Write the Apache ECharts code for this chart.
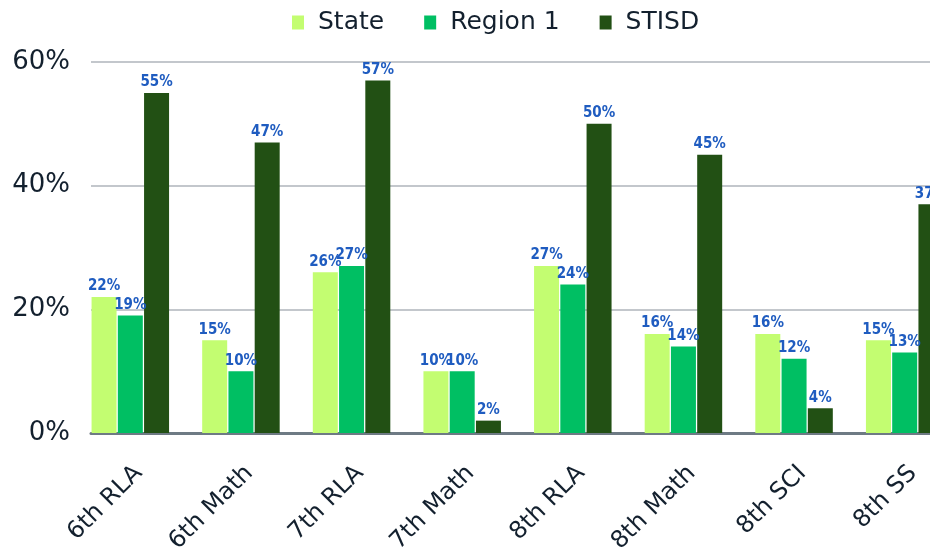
<!DOCTYPE html>
<html>
<head>
<meta charset="utf-8">
<title>Proficiency by subject</title>
<script src="https://cdn.jsdelivr.net/npm/echarts@6/dist/echarts.min.js"></script>
<style>
  html, body { margin: 0; padding: 0; background: #fff; }
  #main { width: 930px; height: 555px; }
</style>
</head>
<body>
<div id="main"></div>
<script>
// data
const categories = ["6th RLA", "6th Math", "7th RLA", "7th Math", "8th RLA", "8th Math", "8th SCI", "8th SS"];
const stateVals = [22, 15, 26, 10, 27, 16, 16, 15];
const regionVals = [19, 10, 27, 10, 24, 14, 12, 13];
const stisdVals = [55, 47, 57, 2, 50, 45, 4, 37];
const yTicks = [0, 20, 40, 60];

const colors = ["#c3fd71", "#00bf63", "#225014"];
const textColor = "#13202e";
const labelFont = {
  show: true,
  position: "top",
  distance: 3,
  color: "#1f5cc0",
  fontFamily: "DejaVu Sans Condensed",
  fontWeight: "bold",
  fontSize: 15,
  formatter: (p) => p.value + "%",
};

let myChart = echarts.init(document.getElementById("main"));

function barSeries(name, data) {
  return {
    name: name,
    type: "bar",
    xAxisIndex: 0,
    yAxisIndex: 0,
    data: data,
    barWidth: 25,
    barGap: "5%",
    label: labelFont,
  };
}

let option = {
  animation: false,
  color: colors,
  textStyle: { fontFamily: "DejaVu Sans" },
  legend: {
    top: 5,
    left: 287,
    itemWidth: 12,
    itemHeight: 14,
    itemGap: 40,
    icon: "rect",
    textStyle: { fontSize: 25, color: textColor, fontFamily: "DejaVu Sans", padding: [0, 0, 0, 9] },
    data: ["State", "Region 1", "STISD"],
  },
  grid: [
    // bars: wider than the window so the last group is cut off
    { left: 75, top: 62, bottom: 122, width: 885, outerBoundsMode: "none", containLabel: false },
    // gridlines and y labels start at the first bar
    { left: 91, top: 62, bottom: 122, right: 0, outerBoundsMode: "none", containLabel: false },
  ],
  xAxis: [
    {
      gridIndex: 0,
      type: "category",
      data: categories,
      axisLine: { show: false },
      axisTick: { show: false },
      axisLabel: {
        rotate: 45,
        margin: 28,
        fontSize: 24,
        color: textColor,
        fontFamily: "DejaVu Sans",
        verticalAlign: "top",
        interval: 0,
      },
    },
    {
      gridIndex: 1,
      type: "category",
      data: categories,
      axisLine: { show: true, lineStyle: { color: "#6e7a84", width: 3 } },
      axisTick: { show: false },
      axisLabel: { show: false },
    },
  ],
  yAxis: [
    {
      gridIndex: 0,
      type: "value",
      min: 0,
      max: 60,
      interval: 20,
      axisLabel: { show: false },
      splitLine: { show: false },
    },
    {
      gridIndex: 1,
      type: "value",
      min: yTicks[0],
      max: yTicks[yTicks.length - 1],
      interval: 20,
      axisLabel: {
        margin: 21,
        fontSize: 26,
        color: textColor,
        fontFamily: "DejaVu Sans",
        formatter: "{value}%",
      },
      splitLine: { lineStyle: { color: "#c3c7cc", width: 2 } },
    },
  ],
  series: [
    barSeries("State", stateVals),
    barSeries("Region 1", regionVals),
    barSeries("STISD", stisdVals),
  ],
};

myChart.setOption(option);
window.addEventListener("resize", () => {
  myChart.resize();
});
</script>
</body>
</html>
